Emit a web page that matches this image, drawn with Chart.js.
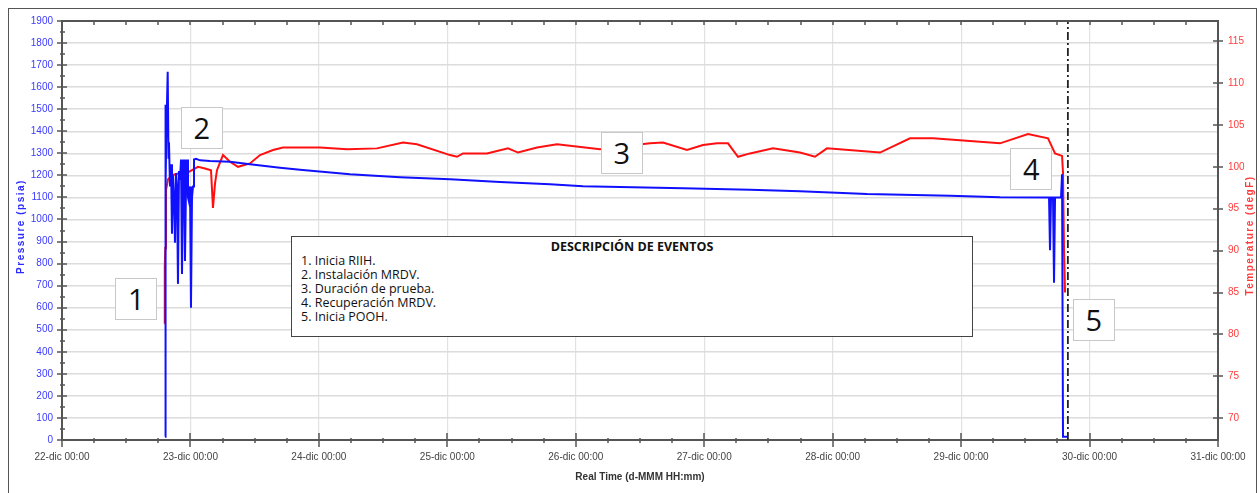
<!DOCTYPE html>
<html>
<head>
<meta charset="utf-8">
<script src="https://cdn.jsdelivr.net/npm/chart.js@4.4.0/dist/chart.umd.min.js"></script>
<style>
  html, body { margin: 0; padding: 0; background: #fff; }
  #wrap { position: relative; width: 1260px; height: 493px; overflow: hidden; }
  #frame { position: absolute; left: 8px; top: 8px; width: 1249px; height: 520px; border: 1.5px solid #555; box-sizing: border-box; pointer-events: none; }
  #events { position: absolute; left: 291px; top: 236px; width: 682px; height: 101px; box-sizing: border-box; border: 1px solid #444; background: #fff; font-family: "Open Sans", sans-serif; color: #111; }
  #events .title { position: absolute; left: 0; right: 0; top: 3px; text-align: center; font-weight: bold; font-size: 12.5px; line-height: 14px; }
  #events .notes { position: absolute; left: 9px; top: 17px; font-size: 12.5px; line-height: 14px; }
  .event-mark { position: absolute; width: 42px; height: 42px; box-sizing: border-box; border: 1px solid #c8c8c8; background: #fff; font-family: "Open Sans", sans-serif; font-size: 29px; line-height: 40px; text-align: center; color: #111; }
</style>
</head>
<body>
<div id="wrap">
  <canvas id="myChart" width="1260" height="493"></canvas>
  <div id="frame"></div>
</div>
<script>
// time in hours from 22-dic 00:00
const pressureHours = [19.25, 19.3, 19.4, 19.5, 19.75, 19.9, 19.99, 20.18, 20.37, 20.55,
  20.74, 20.93, 21.11, 21.3, 21.49, 21.67, 21.86, 22.05, 22.24, 22.42,
  22.61, 22.8, 22.98, 23.17, 23.36, 23.54, 23.73, 23.92, 24.1, 24.29,
  24.48, 24.66, 25.04, 25.79, 27.65, 31.39, 35.13, 40.73, 44.47, 53.81,
  63.16, 72.5, 81.84, 91.19, 97.35, 104.26, 116.04, 128.56, 137.9, 150.42,
  165.93, 175.27, 184.43, 184.61, 184.8, 185.17, 185.36, 185.55, 186.67, 186.86,
  187.04, 187.79];
const pressurePsia = [15, 1520, 1150, 1400, 1670, 1280, 1350, 1150, 1250, 935,
  1200, 1100, 894, 1210, 1150, 708, 1220, 1180, 1272, 753,
  1200, 1272, 812, 1150, 1272, 1100, 1080, 1150, 600, 1100,
  1150, 1272, 1275, 1268, 1265, 1262, 1250, 1235, 1225, 1205,
  1192, 1182, 1170, 1160, 1151, 1147, 1142, 1135, 1128, 1115,
  1108, 1101, 1100, 860, 1100, 1100, 713, 1100, 1100, 1205,
  15, 15];

const tempHours = [19.15, 19.2, 19.3, 19.43, 19.8, 20.55, 21.67, 22.61, 24.29, 25.41,
  26.72, 27.84, 28.21, 28.59, 28.96, 30.08, 31.39, 32.89, 35.13, 37.0,
  39.43, 41.29, 48.21, 53.25, 58.86, 63.72, 66.33, 72.5, 73.81, 74.93,
  79.41, 83.34, 85.21, 88.76, 92.49, 100.53, 109.87, 112.3, 116.78, 119.77,
  122.39, 124.44, 126.31, 128.56, 132.85, 137.9, 140.7, 142.94, 152.85, 158.45,
  162.75, 175.27, 180.5, 184.24, 185.55, 186.86, 187.04, 187.23, 187.42];
const tempDegF = [81.3, 88, 90.3, 97.2, 98.5, 99.0, 99.2, 99.0, 99.6, 100.0,
  99.8, 99.6, 95.1, 98.0, 99.6, 101.4, 100.6, 100.0, 100.4, 101.4,
  102.0, 102.3, 102.3, 102.1, 102.2, 102.9, 102.7, 101.4, 101.2, 101.6,
  101.6, 102.2, 101.7, 102.3, 102.7, 102.1, 102.8, 102.9, 102.0, 102.6,
  102.8, 102.8, 101.2, 101.6, 102.2, 101.7, 101.2, 102.2, 101.7, 103.4,
  103.4, 102.8, 103.9, 103.4, 101.6, 101.3, 99.3, 90, 85.0];

const dayTickHours = [0, 24, 48, 72, 96, 120, 144, 168, 192, 216];
const dayTickLabels = ['22-dic 00:00', '23-dic 00:00', '24-dic 00:00', '25-dic 00:00', '26-dic 00:00',
  '27-dic 00:00', '28-dic 00:00', '29-dic 00:00', '30-dic 00:00', '31-dic 00:00'];
const tempTicks = [70, 75, 80, 85, 90, 95, 100, 105, 110, 115];

const poohHour = 187.95;

const markerLabels = ['1', '2', '3', '4', '5'];
const markerHours = [13.9, 26.1, 104.6, 181.1, 192.8];
const markerPsia = [641, 1413, 1300, 1228, 546];

const eventTitle = 'DESCRIPCIÓN DE EVENTOS';
const eventNotes = ['1. Inicia RIIH.', '2. Instalación MRDV.', '3. Duración de prueba.', '4. Recuperación MRDV.', '5. Inicia POOH.'];

const tickFont = { family: "'Liberation Sans Narrow', 'Liberation Sans', sans-serif", size: 10 };

const frameTicks = {
  id: 'frameTicks',
  afterDraw(chart) {
    const { ctx, chartArea: a, scales: { x, y, y1 } } = chart;
    ctx.save();
    ctx.strokeStyle = '#555';
    ctx.lineWidth = 2;
    ctx.beginPath();
    ctx.moveTo(a.left, a.top);
    ctx.lineTo(a.right, a.top);
    ctx.stroke();

    ctx.lineWidth = 1.5;
    ctx.beginPath();
    for (let h = 0; h <= 216; h += 6) {
      const px = Math.round(x.getPixelForValue(h));
      const major = h % 24 === 0;
      ctx.moveTo(px, a.bottom - (major ? 7 : 2));
      ctx.lineTo(px, a.bottom + (major ? 7 : 3));
      ctx.moveTo(px, a.top);
      ctx.lineTo(px, a.top + 4);
    }
    for (let p = 0; p <= 1900; p += 50) {
      const py = Math.round(y.getPixelForValue(p));
      const major = p % 100 === 0;
      ctx.moveTo(a.left - (major ? 5 : 2), py);
      ctx.lineTo(a.left + (major ? 5 : 3), py);
    }
    tempTicks.forEach(t => {
      const py = Math.round(y1.getPixelForValue(t));
      ctx.moveTo(a.right - 5, py);
      ctx.lineTo(a.right + 5, py);
    });
    ctx.stroke();

    // axis titles, letter spaced like the original
    const midY = (a.top + a.bottom) / 2;
    ctx.font = "bold 10px 'Liberation Sans', sans-serif";
    ctx.letterSpacing = '1.5px';
    ctx.textAlign = 'center';
    ctx.textBaseline = 'middle';
    ctx.fillStyle = '#2b2bff';
    ctx.translate(21, midY - 4);
    ctx.rotate(-Math.PI / 2);
    ctx.fillText('Pressure (psia)', 0, 0);
    ctx.setTransform(1, 0, 0, 1, 0, 0);
    ctx.fillStyle = '#ff3b3b';
    ctx.translate(1250, midY + 5);
    ctx.rotate(-Math.PI / 2);
    ctx.fillText('Temperature (degF)', 0, 0);
    ctx.restore();
  }
};

const graph = document.getElementById('myChart').getContext('2d');
const chart = new Chart(graph, {
  type: 'line',
  data: {
    datasets: [
      {
        label: 'POOH',
        data: [{ x: poohHour, y: 0 }, { x: poohHour, y: 1900 }],
        borderColor: '#222',
        borderWidth: 1.8,
        borderDash: [8, 3, 2, 3],
        pointRadius: 0,
        yAxisID: 'y',
        order: 0
      },
      {
        label: 'Pressure (psia)',
        data: pressureHours.map((h, i) => ({ x: h, y: pressurePsia[i] })),
        borderColor: '#1010ff',
        borderWidth: 2,
        pointRadius: 0,
        tension: 0,
        yAxisID: 'y',
        order: 1
      },
      {
        label: 'Temperature (degF)',
        data: tempHours.map((h, i) => ({ x: h, y: tempDegF[i] })),
        borderColor: '#ff1010',
        borderWidth: 2,
        pointRadius: 0,
        tension: 0,
        yAxisID: 'y1',
        order: 2
      }
    ]
  },
  options: {
    responsive: false,
    animation: false,
    events: [],
    layout: { padding: { top: 21, left: 0, right: 0, bottom: 0 } },
    plugins: { legend: { display: false }, tooltip: { enabled: false } },
    scales: {
      x: {
        type: 'linear',
        min: 0,
        max: 216,
        afterBuildTicks: scale => { scale.ticks = dayTickHours.map(v => ({ value: v })); },
        afterFit: scale => { scale.height = 53; },
        ticks: {
          font: tickFont,
          color: '#444',
          padding: 11,
          maxRotation: 0,
          autoSkip: false,
          callback: (value, index) => dayTickLabels[index]
        },
        grid: { color: '#e2e2e2', lineWidth: 1.2, drawTicks: false },
        border: { display: true, color: '#555', width: 2 },
        title: {
          display: true,
          text: 'Real Time (d-MMM HH:mm)',
          color: '#333',
          font: { family: "'Liberation Sans Narrow', 'Liberation Sans', sans-serif", size: 10, weight: 'bold' },
          padding: { top: 0, bottom: 10 }
        }
      },
      y: {
        position: 'left',
        min: 0,
        max: 1900,
        afterFit: scale => { scale.width = 62; },
        ticks: { stepSize: 100, font: tickFont, color: '#3a3aff', padding: 9, callback: value => String(value) },
        grid: { color: '#dcdcdc', lineWidth: 1.5, drawTicks: false },
        border: { display: true, color: '#555', width: 2 }
      },
      y1: {
        position: 'right',
        min: 67.4,
        max: 117.4,
        afterBuildTicks: scale => { scale.ticks = tempTicks.map(v => ({ value: v })); },
        afterFit: scale => { scale.width = 42; },
        ticks: { font: tickFont, color: '#ff3b3b', padding: 10, callback: value => String(value) },
        grid: { display: false, drawTicks: false },
        border: { display: true, color: '#555', width: 2 }
      }
    }
  },
  plugins: [frameTicks]
});

const wrap = document.getElementById('wrap');

const eventsBox = document.createElement('div');
eventsBox.id = 'events';
const eventsHead = document.createElement('div');
eventsHead.classList.add('title');
eventsHead.textContent = eventTitle;
const eventsList = document.createElement('div');
eventsList.classList.add('notes');
eventNotes.forEach(note => {
  const line = document.createElement('div');
  line.textContent = note;
  eventsList.append(line);
});
eventsBox.append(eventsHead, eventsList);
wrap.append(eventsBox);

markerLabels.forEach((txt, i) => {
  const box = document.createElement('div');
  box.classList.add('event-mark');
  box.textContent = txt;
  box.style.left = (chart.scales.x.getPixelForValue(markerHours[i]) - 21) + 'px';
  box.style.top = (chart.scales.y.getPixelForValue(markerPsia[i]) - 21) + 'px';
  wrap.append(box);
});
</script>
</body>
</html>
